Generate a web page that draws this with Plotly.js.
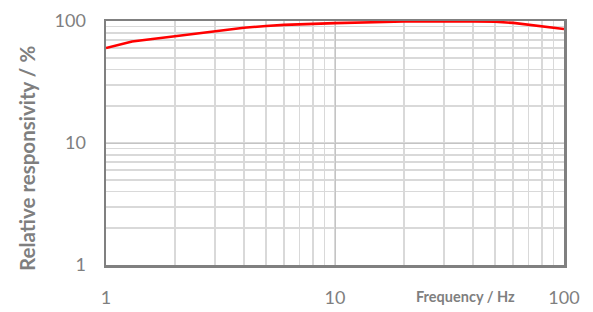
<!DOCTYPE html>
<html>
<head>
<meta charset="utf-8">
<script src="https://cdn.plot.ly/plotly-3.0.1.min.js"></script>
<style>html,body{margin:0;padding:0;background:#fff;}#chart{width:593px;height:312px;}</style>
</head>
<body>
<div id="chart"></div>
<script>
const frequencyHz = [1, 1.3, 2, 3, 4, 5, 6, 10, 15, 20, 40, 50, 60, 80, 100];
const responsivityPct = [60, 68, 75, 83, 88, 91, 93, 96, 98, 99, 99, 98.5, 96.5, 90.5, 86];
const xTickVals = [1, 10, 100];
const xTickText = ['1', '10', '100'];
const yTickVals = [1, 10, 100];
const yTickText = ['1', '10', '100'];
const xTitle = 'Frequency / Hz';
const yTitle = 'Relative responsivity / %';

const FONT = 'Lato, "Open Sans", sans-serif';
const GRAY = '#7f7f7f';

const trace = {
  x: frequencyHz, y: responsivityPct, type: 'scatter', mode: 'lines',
  line: {color: '#ff0000', width: 2.6}, hoverinfo: 'skip'
};

const axisCommon = {
  type: 'log', range: [0, 2], dtick: 1,
  showline: true, mirror: true, linecolor: '#808080', linewidth: 2.5,
  showgrid: true, gridcolor: '#c4c4c4', gridwidth: 1,
  minor: {dtick: 'D1', showgrid: true, gridcolor: '#d9d9d9', gridwidth: 1.6, ticks: ''},
  ticks: '', zeroline: false, fixedrange: true,
  tickfont: {family: FONT, size: 18, color: GRAY}
};

const layout = {
  width: 593, height: 312,
  margin: {l: 106, r: 29, t: 21, b: 47},
  paper_bgcolor: '#ffffff', plot_bgcolor: '#ffffff',
  showlegend: false,
  xaxis: Object.assign({}, axisCommon, {tickvals: xTickVals, ticktext: xTickText, ticklabelstandoff: 15}),
  yaxis: Object.assign({}, axisCommon, {tickvals: yTickVals, ticktext: yTickText, ticklabelstandoff: 14}),
  annotations: [
    {text: '<b>' + xTitle + '</b>', xref: 'paper', yref: 'paper', x: 0.786, y: -0.131, yanchor: 'middle', xanchor: 'center',
     showarrow: false, font: {family: FONT, size: 14.5, color: GRAY}},
    {text: '<b>' + yTitle + '</b>', xref: 'paper', yref: 'paper', x: -0.1725, y: 0.4385, xanchor: 'center', yanchor: 'middle',
     textangle: -90, showarrow: false, font: {family: FONT, size: 20.5, color: GRAY}}
  ]
};

Plotly.newPlot('chart', [trace], layout, {staticPlot: true, displayModeBar: false});
</script>
</body>
</html>
